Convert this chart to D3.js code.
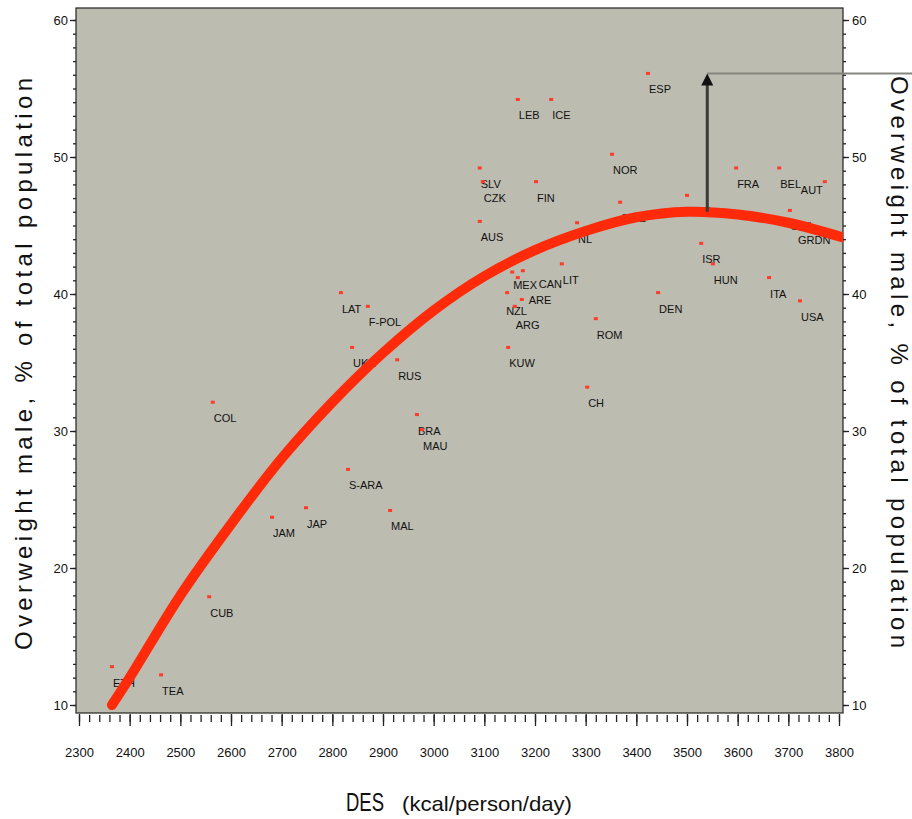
<!doctype html>
<html>
<head>
  <meta charset="utf-8">
  <title>Overweight male vs DES</title>
  <script src="https://cdnjs.cloudflare.com/ajax/libs/d3/7.8.5/d3.min.js"></script>
  <style>
    html, body { margin: 0; padding: 0; background: #fff; }
    svg { display: block; font-family: "Liberation Sans", Arial, sans-serif; }
    .tick text { font-size: 13px; fill: #111; }
    .tick line, .domain { stroke: #222; }
    .lab { font-size: 11px; fill: #111; }
  </style>
</head>
<body>
  <div id="chart"></div>
  <script>
    // country points: DES (kcal/person/day) vs overweight male (%)
    const countries = ['LEB','ICE','SLV','CZK','FIN','AUS','NOR','SWE','NL','LIT','ESP','NET',
      'FRA','BEL','AUT','SWI','GRDN','ISR','HUN','ITA','USA','DEN','ROM',
      'MEX','CAN','ARE','NZL','','ARG','KUW','RUS','CH','BRA','MAU',
      'LAT','F-POL','UKR','COL','S-ARA','JAM','JAP','MAL','CUB','ETH','TEA'];
    const des = [3166,3232,3091,3097,3202,3091,3352,3368,3283,3253,3423,3500,
      3597,3682,3772,3703,3717,3528,3551,3662,3723,3443,3320,
      3155,3176,3166,3145,3174,3160,3147,2928,3303,2967,2977,
      2817,2870,2839,2564,2831,2681,2748,2914,2557,2365,2462];
    const overweight = [54.2,54.2,49.2,48.2,48.2,45.3,50.2,46.7,45.2,42.2,56.1,47.2,
      49.2,49.2,48.2,46.1,45.1,43.7,42.2,41.2,39.5,40.1,38.2,
      41.6,41.7,41.2,40.1,39.6,39.1,36.1,35.2,33.2,31.2,30.1,
      40.1,39.1,36.1,32.1,27.2,23.7,24.4,24.2,17.9,12.8,12.2];

    // fitted curve
    const fitDes = [2365,2400,2500,2600,2700,2800,2900,3000,3100,3200,3300,3400,3500,3600,3700,3810];
    const fitOverweight = [10,12,18,23.2,28,32.1,35.7,38.8,41.3,43.2,44.6,45.6,46,45.8,45.2,44.1];

    // arrow marking the maximum
    const peakDes = 3540;
    const peakFrom = 46, peakTo = 56.1;

    const xTicks = [2300,2400,2500,2600,2700,2800,2900,3000,3100,3200,3300,3400,3500,3600,3700,3800];
    const yTicks = [10,20,30,40,50,60];

    // a few labels nudged so the crowded cluster stays readable
    const labelShift = { AUT: [-25, -8], MEX: [0, -3], CAN: [15, -3], ARE: [10, 6], NZL: [-2, 2], ARG: [0, 3] };

    const W = 912, H = 819;
    const plot = { left: 76, right: 843, top: 8, bottom: 713 };

    const svg = d3.select('#chart').append('svg')
      .attr('width', W).attr('height', H);

    const x = d3.scaleLinear().domain([2300, 3800]).range([79, 839]);
    const y = d3.scaleLinear().domain([10, 60]).range([705, 20]);

    svg.append('clipPath').attr('id', 'clip')
      .append('rect')
      .attr('x', plot.left).attr('y', plot.top)
      .attr('width', plot.right - plot.left).attr('height', plot.bottom - plot.top);

    svg.append('rect')
      .attr('x', plot.left).attr('y', plot.top)
      .attr('width', plot.right - plot.left).attr('height', plot.bottom - plot.top)
      .attr('fill', '#bdbcb0')
      .attr('stroke', '#222').attr('stroke-width', 1.2);

    // axes
    const xMinor = svg.append('g').attr('transform', `translate(0,${plot.bottom + 2})`)
      .call(d3.axisBottom(x).tickValues(d3.range(2300, 3801, 20)).tickSize(7).tickFormat('').tickSizeOuter(0));
    const xMajor = svg.append('g').attr('transform', `translate(0,${plot.bottom + 1})`)
      .call(d3.axisBottom(x).tickValues(xTicks).tickSize(12).tickPadding(22).tickFormat(d3.format('d')).tickSizeOuter(0));

    const yl1 = svg.append('g').attr('transform', `translate(${plot.left},0)`)
      .call(d3.axisLeft(y).tickValues(d3.range(10, 61, 1)).tickSize(3).tickFormat('').tickSizeOuter(0));
    const yl2 = svg.append('g').attr('transform', `translate(${plot.left},0)`)
      .call(d3.axisLeft(y).tickValues(yTicks).tickSize(6).tickPadding(2).tickSizeOuter(0));
    const yr1 = svg.append('g').attr('transform', `translate(${plot.right},0)`)
      .call(d3.axisRight(y).tickValues(d3.range(10, 61, 1)).tickSize(3).tickFormat('').tickSizeOuter(0));
    const yr2 = svg.append('g').attr('transform', `translate(${plot.right},0)`)
      .call(d3.axisRight(y).tickValues(yTicks).tickSize(6).tickPadding(3).tickSizeOuter(0));

    [xMinor, xMajor, yl1, yl2, yr1, yr2].forEach(g => g.select('.domain').remove());
    svg.selectAll('.tick line').attr('stroke-width', 1.3);

    const data = countries.map((c, i) => ({ name: c, des: des[i], ow: overweight[i] }));
    const inner = svg.append('g').attr('clip-path', 'url(#clip)');

    // labels first so the curve covers some of them like in the original
    inner.selectAll('text.lab')
      .data(data.filter(d => d.name))
      .join('text')
      .attr('class', 'lab')
      .attr('x', d => x(d.des) + 1 + (labelShift[d.name] ? labelShift[d.name][0] : 0))
      .attr('y', d => y(d.ow) + 20 + (labelShift[d.name] ? labelShift[d.name][1] : 0))
      .text(d => d.name);

    inner.selectAll('rect.pt')
      .data(data)
      .join('rect')
      .attr('class', 'pt')
      .attr('x', d => x(d.des) - 2)
      .attr('y', d => y(d.ow) - 1.5)
      .attr('width', 4).attr('height', 3)
      .attr('fill', '#ff3a2a');

    const fit = fitDes.map((d, i) => [d, fitOverweight[i]]);
    inner.append('path')
      .datum(fit)
      .attr('d', d3.line().x(d => x(d[0])).y(d => y(d[1])).curve(d3.curveCatmullRom))
      .attr('fill', 'none')
      .attr('stroke', '#ff2a0a')
      .attr('stroke-width', 10)
      .attr('stroke-linecap', 'round');

    // arrow
    svg.append('line')
      .attr('x1', x(peakDes)).attr('x2', W)
      .attr('y1', y(peakTo)).attr('y2', y(peakTo))
      .attr('stroke', '#858580').attr('stroke-width', 2);
    svg.append('line')
      .attr('x1', x(peakDes)).attr('x2', x(peakDes))
      .attr('y1', y(peakFrom)).attr('y2', y(peakTo) + 8)
      .attr('stroke', '#3a3a38').attr('stroke-width', 3);
    svg.append('path')
      .attr('d', `M${x(peakDes)},${y(peakTo)} l6,12 l-12,0 z`)
      .attr('fill', '#111');

    // titles
    const yTitle = 'Overweight male, % of total population';
    svg.append('text')
      .attr('transform', 'translate(32,364) rotate(-90)')
      .attr('text-anchor', 'middle')
      .attr('font-size', 24)
      .attr('textLength', 572).attr('lengthAdjust', 'spacing')
      .attr('fill', '#111')
      .text(yTitle);
    svg.append('text')
      .attr('transform', 'translate(891,362) rotate(90)')
      .attr('text-anchor', 'middle')
      .attr('font-size', 24)
      .attr('textLength', 572).attr('lengthAdjust', 'spacing')
      .attr('fill', '#111')
      .text(yTitle);

    const xt = svg.append('text').attr('y', 811).attr('fill', '#111');
    xt.append('tspan').attr('x', 346).attr('font-size', 25)
      .attr('textLength', 38).attr('lengthAdjust', 'spacingAndGlyphs').text('DES');
    xt.append('tspan').attr('x', 402).attr('font-size', 21)
      .attr('textLength', 170).attr('lengthAdjust', 'spacingAndGlyphs').text('(kcal/person/day)');
  </script>
</body>
</html>
